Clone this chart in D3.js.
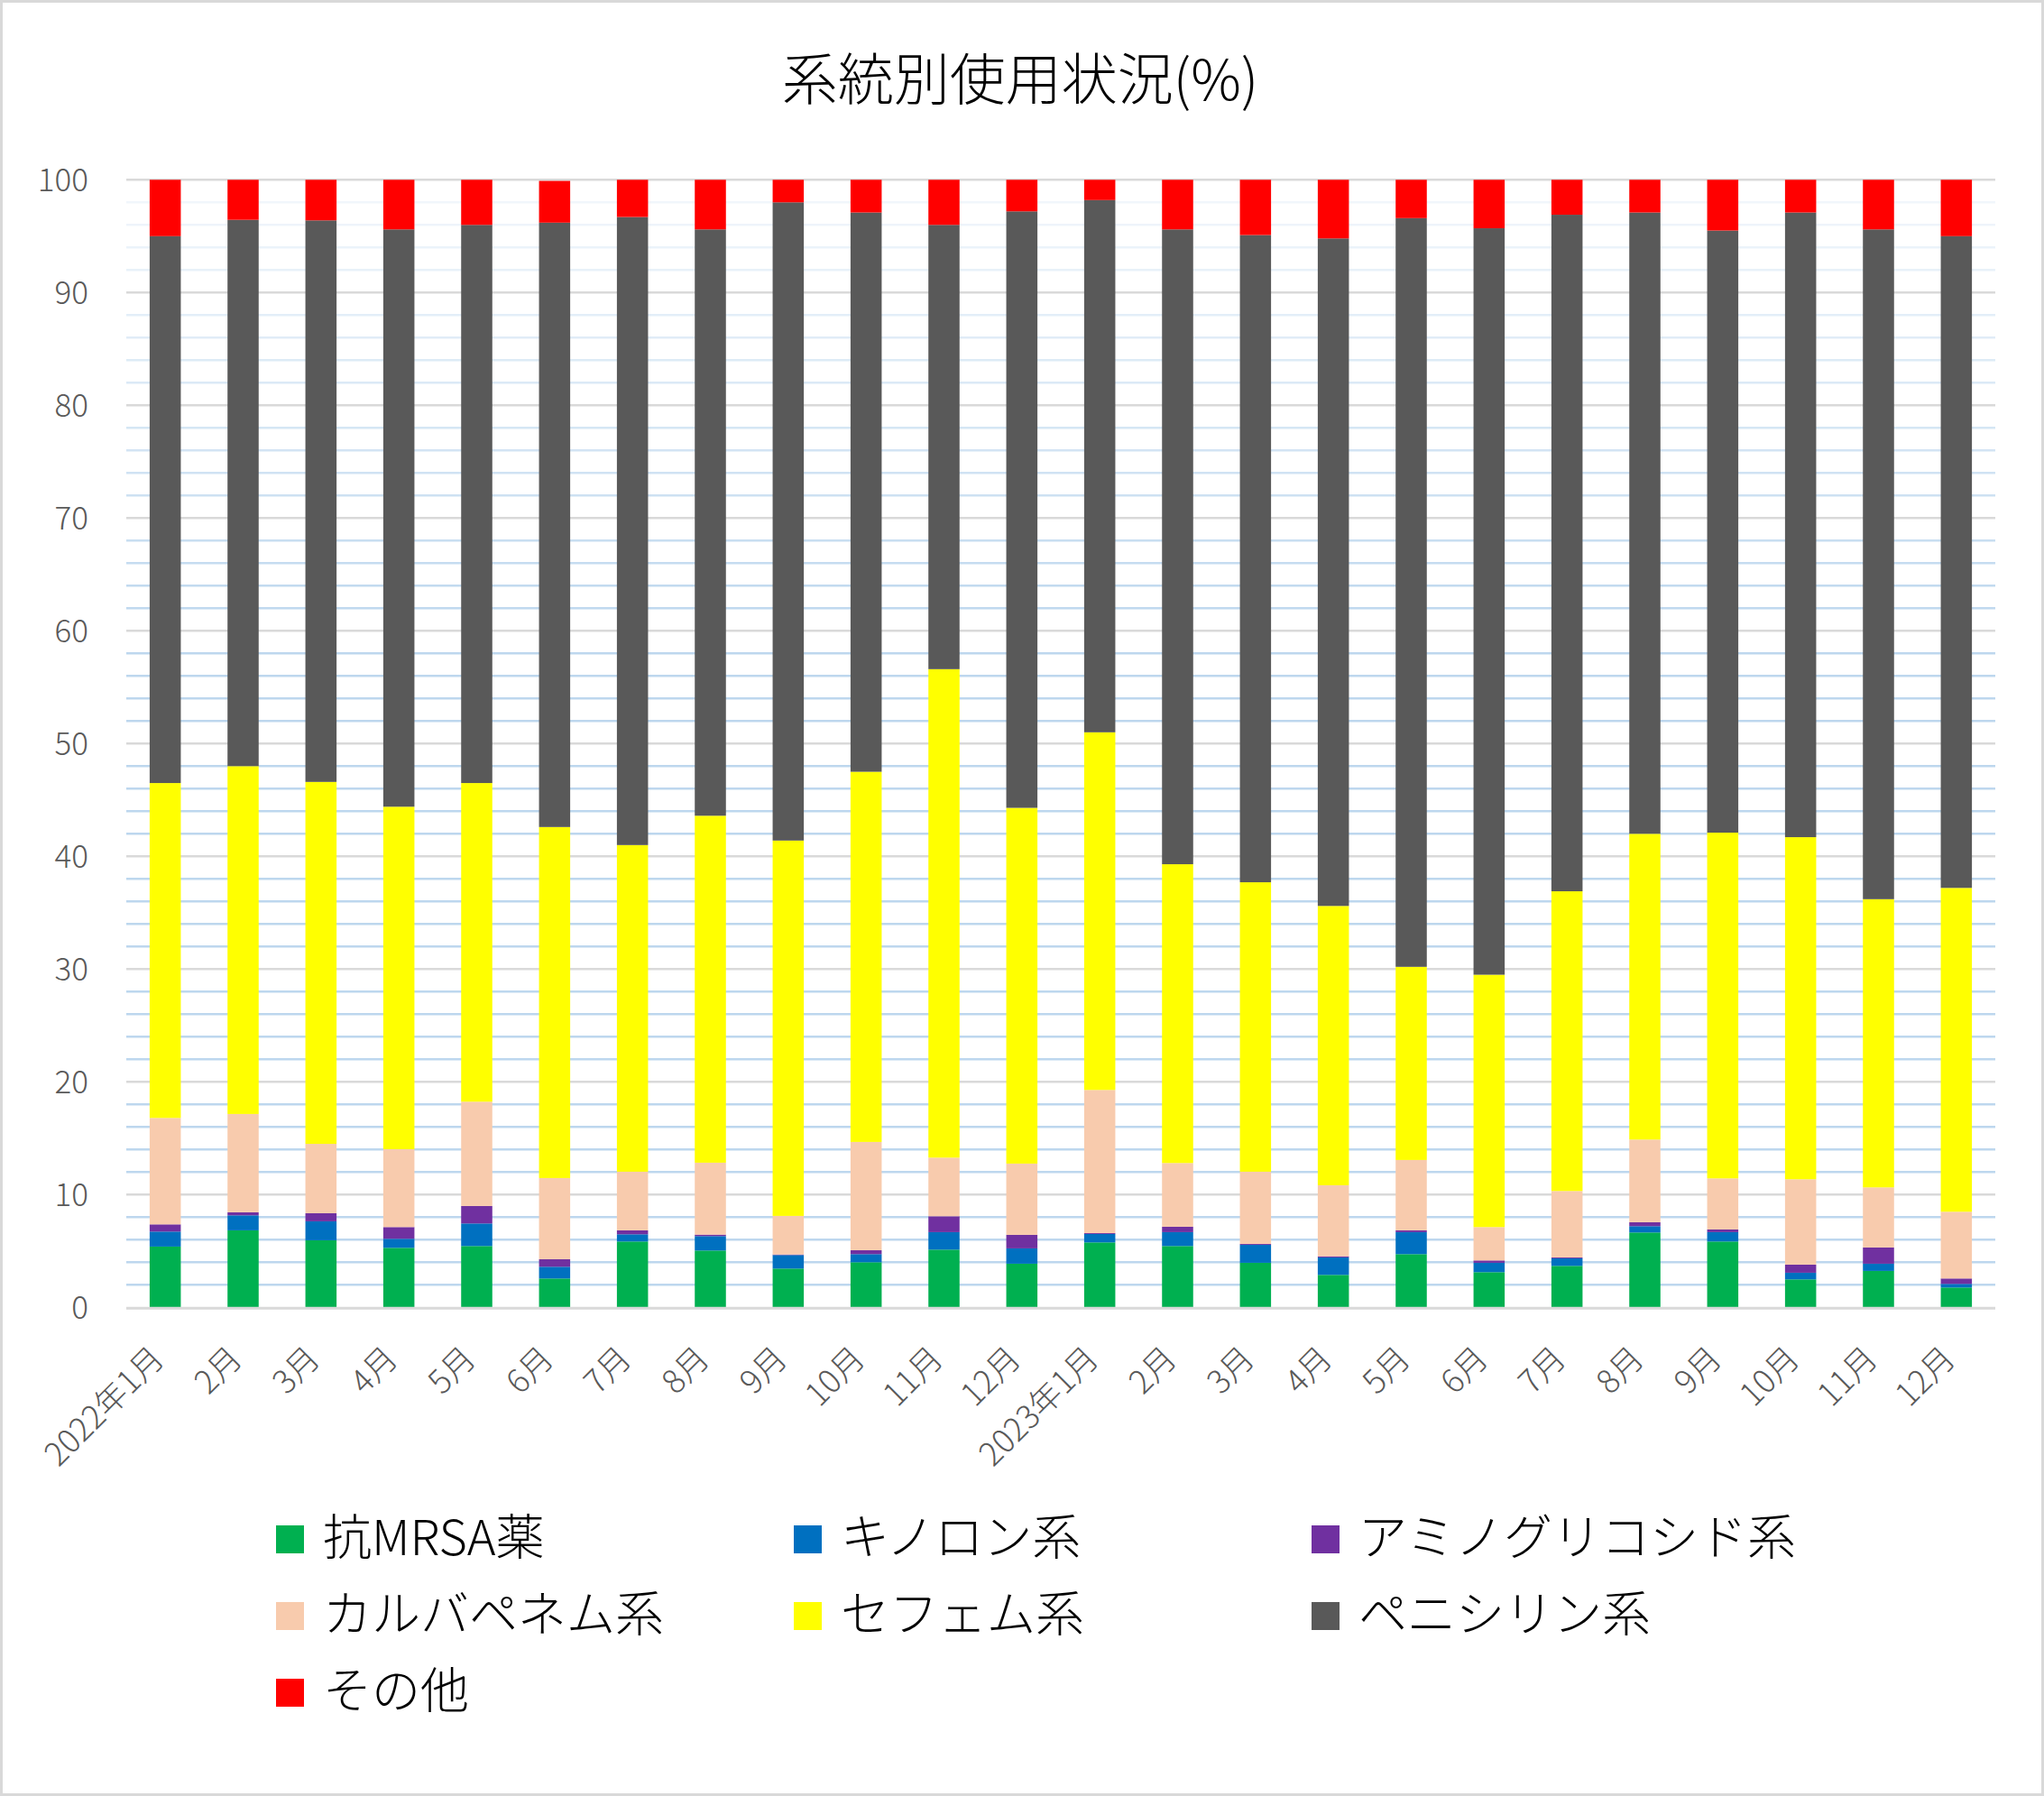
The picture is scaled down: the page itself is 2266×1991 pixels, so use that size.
<!DOCTYPE html>
<html><head><meta charset="utf-8">
<script src="https://cdn.jsdelivr.net/npm/d3@7"></script>
<style>body{margin:0;background:#fff}svg{display:block}</style>
</head><body>
<svg id="chart" width="2266" height="1991"></svg>
<script>
const months = ["2022年1月","2月","3月","4月","5月","6月","7月","8月","9月","10月","11月","12月",
                "2023年1月","2月","3月","4月","5月","6月","7月","8月","9月","10月","11月","12月"];
const seriesNames = ["抗MRSA薬","キノロン系","アミノグリコシド系","カルバペネム系","セフェム系","ペニシリン系","その他"];
const antiMRSA   = [5.39,6.83,5.95,5.28,5.44,2.56,5.84,5.04,3.44,4.00,5.12,3.87,5.76,5.44,3.95,2.88,4.72,3.12,3.68,6.64,5.84,2.48,3.23,1.76];
const quinolone  = [1.33,1.33,1.68,0.80,2.00,1.04,0.64,1.28,1.20,0.72,1.55,1.36,0.75,1.23,1.60,1.55,1.95,0.83,0.67,0.56,0.83,0.59,0.64,0.32];
const aminoglyco = [0.64,0.27,0.72,1.04,1.55,0.67,0.35,0.13,0.05,0.35,1.41,1.20,0.08,0.48,0.08,0.10,0.16,0.21,0.08,0.35,0.24,0.72,1.44,0.48];
const carbapenem = [9.44,8.72,6.15,6.91,9.25,7.20,5.20,6.38,3.42,9.60,5.20,6.32,12.69,5.65,6.40,6.30,6.24,2.96,5.89,7.33,4.53,7.57,5.33,5.92];
const cephem     = [29.70,30.85,32.10,30.37,28.26,31.13,28.97,30.77,33.29,32.83,43.32,31.55,31.72,26.50,25.67,24.77,17.13,22.38,26.58,27.12,30.66,30.34,25.56,28.72];
const penicillin = [48.50,48.45,49.80,51.20,49.50,53.60,55.70,52.00,56.60,49.60,39.40,52.90,47.20,56.30,57.40,59.20,66.40,66.20,60.00,55.10,53.40,55.40,59.40,57.80];
const others     = [5.00,3.55,3.60,4.40,4.00,3.70,3.30,4.40,2.00,2.90,4.00,2.80,1.80,4.40,4.90,5.20,3.40,4.30,3.10,2.90,4.50,2.90,4.40,5.00];
const colors = ["#00b050","#0070c0","#7030a0","#f8cbad","#ffff00","#595959","#ff0000"];
const yTicks = [0,10,20,30,40,50,60,70,80,90,100];
const titleText = "系統別使用状況(%)";

(function(){
const FONT = "'Noto Sans CJK JP','Noto Sans',sans-serif";
const svg = d3.select("#chart");
const W = 2266, H = 1991;
const pL = 140, pR = 2212, pT = 199.3, pB = 1449.3;

svg.append("rect").attr("x",1.5).attr("y",1.5).attr("width",W-3).attr("height",H-3)
  .attr("fill","#fff").attr("stroke","#d9d9d9").attr("stroke-width",3);

const allSeries = [antiMRSA,quinolone,aminoglyco,carbapenem,cephem,penicillin,others];
const keys = seriesNames;
const rows = months.map((m,i)=>{const r={month:m,idx:i}; keys.forEach((k,j)=>r[k]=allSeries[j][i]); return r;});

const x = d3.scaleBand().domain(d3.range(months.length)).range([pL,pR]).paddingInner(0.6).paddingOuter(0.3);
const y = d3.scaleLinear().domain([0,100]).range([pB,pT]);

const minor = d3.range(2,100,2).filter(v=>v%10!==0);
const op = d3.scaleLinear().domain([100,60]).range([0.18,1]).clamp(true);
svg.append("g").selectAll("line").data(minor).join("line")
  .attr("x1",pL).attr("x2",pR).attr("y1",d=>y(d)).attr("y2",d=>y(d))
  .attr("stroke","#bdd7ee").attr("stroke-opacity",d=>op(d)).attr("stroke-width",2.5);
svg.append("g").selectAll("line").data(yTicks.filter(v=>v>0)).join("line")
  .attr("x1",pL).attr("x2",pR).attr("y1",d=>y(d)).attr("y2",d=>y(d))
  .attr("stroke","#d9d9d9").attr("stroke-width",2.5);

const stack = d3.stack().keys(keys)(rows);
svg.append("g").selectAll("g").data(stack).join("g")
  .attr("fill",(d,i)=>colors[i])
  .selectAll("rect").data(d=>d).join("rect")
  .attr("x",d=>x(d.data.idx)).attr("width",x.bandwidth())
  .attr("y",d=>y(d[1])).attr("height",d=>y(d[0])-y(d[1]));

svg.append("line").attr("x1",pL).attr("x2",pR).attr("y1",pB+1).attr("y2",pB+1)
  .attr("stroke","#d9d9d9").attr("stroke-width",3);

const yAxis = d3.axisLeft(y).tickValues(yTicks).tickSize(0).tickPadding(0);
const gy = svg.append("g").attr("transform",`translate(98,0)`).call(yAxis);
gy.select(".domain").remove();
gy.selectAll("text").attr("font-family",FONT).attr("font-size",35).attr("font-weight",300).attr("fill","#595959").attr("dy","0.35em");

const xAxis = d3.axisBottom(x).tickFormat(i=>months[i]).tickSize(0).tickPadding(0);
const gx = svg.append("g").attr("transform",`translate(0,${pB})`).call(xAxis);
gx.select(".domain").remove();
gx.selectAll("text")
  .attr("font-family",FONT).attr("font-size",36).attr("font-weight",300).attr("fill","#595959")
  .attr("text-anchor","end").attr("dy","0.35em").attr("y",0)
  .attr("transform","translate(-8,50) rotate(-45)");

svg.append("text").attr("x",1131).attr("y",111).attr("text-anchor","middle")
  .attr("font-family",FONT).attr("font-size",62).attr("font-weight",300).attr("fill","#000").text(titleText);

const legX = [306,880,1454], legY = [1705,1790,1875];
const lg = svg.append("g").selectAll("g").data(keys).join("g")
  .attr("transform",(d,i)=>`translate(${legX[i%3]},${legY[Math.floor(i/3)]})`);
lg.append("rect").attr("x",0).attr("y",-14).attr("width",31).attr("height",31).attr("fill",(d,i)=>colors[i]);
lg.append("text").attr("x",52).attr("y",0).attr("dy","0.36em")
  .attr("font-family",FONT).attr("font-size",54).attr("font-weight",300).attr("fill","#000").text(d=>d);
})();
</script>
</body></html>
